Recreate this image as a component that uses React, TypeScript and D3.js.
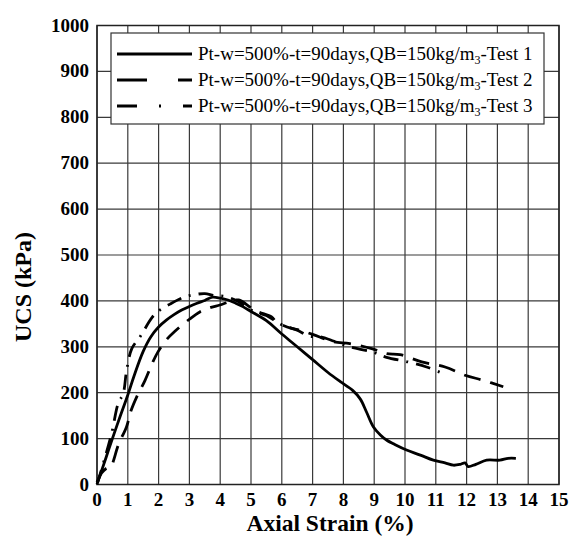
import React from "react";
import * as d3 from "d3";

const xTicks = [0, 1, 2, 3, 4, 5, 6, 7, 8, 9, 10, 11, 12, 13, 14, 15];
const yTicks = [0, 100, 200, 300, 400, 500, 600, 700, 800, 900, 1000];

const test1X = [0.02, 0.1, 0.3, 0.5, 0.75, 1.0, 1.2, 1.5, 1.75, 2.0, 2.25, 2.5, 2.75, 3.0, 3.25, 3.5, 3.75, 4.0, 4.25, 4.5, 4.75, 5.0, 5.5, 6.0, 6.5, 7.0, 7.5, 7.9, 8.3, 8.55, 8.75, 8.97, 9.2, 9.4, 9.7, 10.05, 10.5, 10.92, 11.3, 11.57, 11.8, 11.95, 12.05, 12.3, 12.65, 13.08, 13.35, 13.6];
const test1Y = [5, 20, 60, 100, 148, 195, 236, 290, 322, 343, 358, 370, 380, 388, 395, 401, 408, 406, 402, 395, 387, 377, 357, 328, 300, 272, 244, 224, 205, 186, 158, 126, 108, 97, 86, 75, 64, 53, 47, 42, 44, 47, 39, 44, 53, 53, 57, 57];

const test2X = [0.0, 0.15, 0.3, 0.45, 0.55, 0.69, 0.96, 1.1, 1.29, 1.56, 1.8, 1.98, 2.25, 2.53, 3.0, 3.34, 3.7, 3.99, 4.3, 4.6, 5.0, 5.24, 5.67, 5.83, 6.32, 6.59, 7.0, 7.67, 8.21, 8.92, 9.4, 9.84, 10.54, 11.3, 11.95, 12.54, 13.19];
const test2Y = [5, 25, 35, 38, 55, 86, 126, 160, 191, 227, 265, 289, 315, 334, 360, 376, 386, 391, 398, 402, 385, 376, 365, 354, 340, 336, 327, 311, 307, 296, 285, 283, 267, 256, 238, 227, 213];

const test3X = [0.0, 0.2, 0.48, 0.69, 0.85, 0.96, 1.13, 1.4, 1.79, 2.0, 2.37, 2.86, 3.2, 3.5, 3.8, 4.2, 4.6, 5.0, 5.5, 6.0, 6.5, 6.9, 7.24, 7.7, 8.2, 8.92, 9.4, 10.1, 10.7, 11.19];
const test3Y = [0, 45, 113, 177, 198, 248, 296, 322, 364, 378, 393, 409, 414, 416, 412, 409, 398, 380, 368, 348, 336, 323, 322, 312, 300, 289, 277, 267, 256, 243];

const legendLabels = [
  "Pt-w=500%-t=90days,QB=150kg/m",
  "Pt-w=500%-t=90days,QB=150kg/m",
  "Pt-w=500%-t=90days,QB=150kg/m",
];
const legendSuffix = ["-Test 1", "-Test 2", "-Test 3"];

const FONT = "'Liberation Serif', 'Times New Roman', serif";

export default function App() {
  const x = d3.scaleLinear().domain([0, 15]).range([97, 559]);
  const y = d3.scaleLinear().domain([0, 1000]).range([484.5, 25.5]);
  const line = d3
    .line<[number, number]>()
    .x((d) => x(d[0]))
    .y((d) => y(d[1]))
    .curve(d3.curveCatmullRom.alpha(0.5));

  const series = [
    { pts: test1X.map((v, i) => [v, test1Y[i]] as [number, number]), dash: "none", legendDash: "none" },
    { pts: test2X.map((v, i) => [v, test2Y[i]] as [number, number]), dash: "17 10", legendDash: "30 31" },
    { pts: test3X.map((v, i) => [v, test3Y[i]] as [number, number]), dash: "15 8 2 8", legendDash: "20 22 2 22" },
  ];

  const [x0, x1] = x.range();
  const [y0, y1] = y.range();

  return (
    <svg
      width={570}
      height={536}
      style={{ position: "absolute", left: 0, top: 0, background: "#fff" }}
      fontFamily={FONT}
    >
      <rect x={0} y={0} width={570} height={536} fill="#fff" />
      {xTicks.map((t) => (
        <line key={"gx" + t} x1={x(t)} x2={x(t)} y1={y1} y2={y0} stroke="#3a3a3a" strokeWidth={1.2} />
      ))}
      {yTicks.map((t) => (
        <line key={"gy" + t} x1={x0} x2={x1} y1={y(t)} y2={y(t)} stroke="#3a3a3a" strokeWidth={1.2} />
      ))}
      <rect x={x0} y={y1} width={x1 - x0} height={y0 - y1} fill="none" stroke="#222" strokeWidth={1.5} />

      {series.map((s, i) => (
        <path
          key={"s" + i}
          d={line(s.pts) || ""}
          fill="none"
          stroke="#000"
          strokeWidth={2.8}
          strokeDasharray={s.dash}
          strokeLinejoin="round"
        />
      ))}

      {xTicks.map((t) => (
        <text key={"tx" + t} x={x(t)} y={506} textAnchor="middle" fontSize={19} fontWeight="bold">
          {t}
        </text>
      ))}
      {yTicks.map((t) => (
        <text key={"ty" + t} x={89} y={y(t) + 6} textAnchor="end" fontSize={19} fontWeight="bold">
          {t}
        </text>
      ))}

      <text x={330} y={531} textAnchor="middle" fontSize={23.5} fontWeight="bold">
        Axial Strain (%)
      </text>
      <text
        transform={`translate(31,287) rotate(-90)`}
        textAnchor="middle"
        fontSize={24}
        fontWeight="bold"
      >
        UCS (kPa)
      </text>

      <rect x={111} y={33} width={433} height={91} fill="#fff" stroke="#333" strokeWidth={1.2} />
      {series.map((s, i) => {
        const ly = 54 + i * 26;
        return (
          <g key={"lg" + i}>
            <line x1={117} x2={192} y1={ly} y2={ly} stroke="#000" strokeWidth={3} strokeDasharray={s.legendDash} />
            <text x={198} y={ly + 6} fontSize={19}>
              {legendLabels[i]}
              <tspan fontSize={12} dy={4}>3</tspan>
              <tspan dy={-4}>{legendSuffix[i]}</tspan>
            </text>
          </g>
        );
      })}
    </svg>
  );
}
